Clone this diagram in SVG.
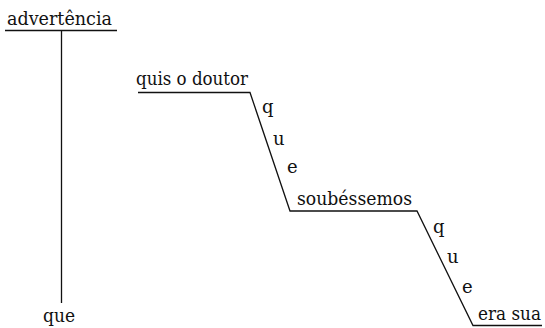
<svg xmlns="http://www.w3.org/2000/svg" width="545" height="328" viewBox="0 0 545 328">
<style>
text{font-family:"DejaVu Serif","Liberation Serif",serif;font-size:18px;fill:#111}
.ln{stroke:#111;stroke-width:1.3;fill:none}
</style>
<rect width="545" height="328" fill="#fff"/>
<g id="connectors">
<path class="ln" d="M5,30.5H117M61.5,30.5V303"/>
<path class="ln" d="M138,92.5H250L290,211H417L473,325.5H542"/>
</g>
<g id="advertencia"><text x="7" y="25" textLength="105" lengthAdjust="spacingAndGlyphs">advertência</text></g>
<g id="que-bottom"><text x="43" y="322" textLength="32" lengthAdjust="spacingAndGlyphs">que</text></g>
<g id="quis"><text x="136" y="85" textLength="112" lengthAdjust="spacingAndGlyphs">quis o doutor</text></g>
<g id="que1"><text x="262" y="113">q</text><text x="273" y="145">u</text><text x="287" y="173">e</text></g>
<g id="soubessemos"><text x="297" y="205" textLength="115" lengthAdjust="spacingAndGlyphs">soubéssemos</text></g>
<g id="que2"><text x="433" y="233">q</text><text x="447" y="263">u</text><text x="462" y="293">e</text></g>
<g id="erasua"><text x="478" y="320" textLength="63" lengthAdjust="spacingAndGlyphs">era sua</text></g>
</svg>
